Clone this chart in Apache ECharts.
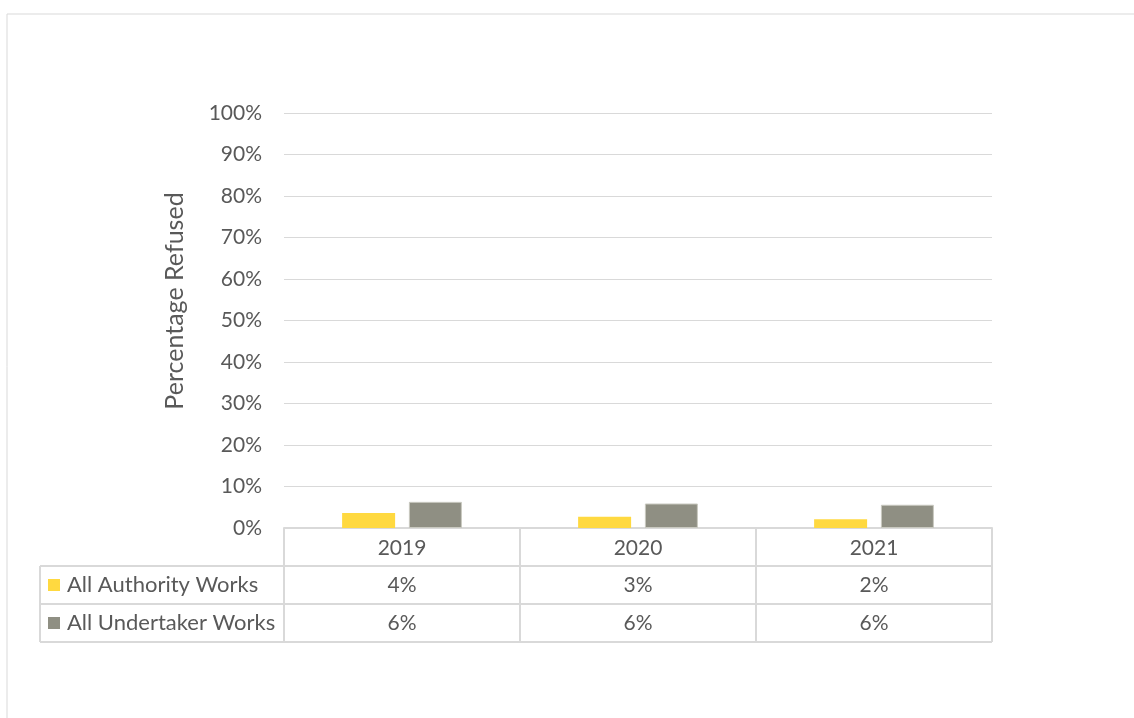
<!DOCTYPE html>
<html>
<head>
<meta charset="utf-8">
<script src="https://cdn.jsdelivr.net/npm/echarts@6/dist/echarts.min.js"></script>
<style>
html,body{margin:0;padding:0;background:#fff;}
#chart{width:1134px;height:718px;}
</style>
</head>
<body>
<div id="chart"></div>
<script>
const categories = ['2019', '2020', '2021'];
const authorityWorks = [3.6, 2.7, 2.1];
const undertakerWorks = [6.3, 5.9, 5.6];
const seriesNames = ['All Authority Works', 'All Undertaker Works'];
const seriesColors = ['#FFD940', '#8F8F83'];
const yTicks = [0, 10, 20, 30, 40, 50, 60, 70, 80, 90, 100];

const FONT = 'Lato, "Open Sans", sans-serif';
const TXT = '#595959';
const LINE = '#d9d9d9';
const G = { left: 284, right: 992, top: 113, bottom: 528 };
const rowH = 38;
const tableLeft = 40;

const chart = echarts.init(document.getElementById('chart'));

const graphics = [];
graphics.push({ type: 'rect', shape: { x: 7, y: 14, width: 1300, height: 900 }, style: { fill: 'none', stroke: LINE, lineWidth: 1 }, silent: true });
for (let i = 1; i <= 3; i++) {
  graphics.push({ type: 'line', shape: { x1: tableLeft, y1: G.bottom + rowH * i, x2: G.right, y2: G.bottom + rowH * i }, style: { stroke: LINE, lineWidth: 2 }, silent: true });
}
graphics.push({ type: 'line', shape: { x1: tableLeft, y1: G.bottom + rowH, x2: tableLeft, y2: G.bottom + rowH * 3 }, style: { stroke: LINE, lineWidth: 2 }, silent: true });
const allData = [authorityWorks, undertakerWorks];
const catW = (G.right - G.left) / categories.length;
allData.forEach((arr, r) => {
  const cy = G.bottom + rowH * (r + 1) + rowH / 2;
  graphics.push({ type: 'rect', shape: { x: 48, y: cy - 6, width: 12, height: 12 }, style: { fill: seriesColors[r] }, silent: true });
  graphics.push({ type: 'text', x: 67, y: cy, style: { text: seriesNames[r], font: '22px ' + FONT, fill: TXT, verticalAlign: 'middle' }, silent: true });
  arr.forEach((v, c) => {
    graphics.push({ type: 'text', x: G.left + catW * (c + 0.5), y: cy, style: { text: Math.round(v) + '%', font: '21px ' + FONT, fill: TXT, align: 'center', verticalAlign: 'middle' }, silent: true });
  });
});
graphics.push({ type: 'text', x: 175, y: 301, rotation: Math.PI / 2, style: { text: 'Percentage Refused', font: '25px ' + FONT, fill: TXT, align: 'center', verticalAlign: 'middle' }, silent: true });

chart.setOption({
  animation: false,
  backgroundColor: '#fff',
  grid: { left: G.left, top: G.top, width: G.right - G.left, height: G.bottom - G.top, containLabel: false },
  xAxis: {
    type: 'category',
    data: categories,
    axisLine: { show: true, lineStyle: { color: LINE, width: 2 } },
    axisTick: { show: true, length: rowH * 3, lineStyle: { color: LINE, width: 2 } },
    axisLabel: { color: TXT, fontSize: 21, fontFamily: FONT, margin: 10 }
  },
  yAxis: {
    type: 'value',
    min: 0, max: 100, interval: 10,
    axisLine: { show: false },
    axisTick: { show: false },
    splitLine: { lineStyle: { color: LINE, width: 1 } },
    axisLabel: { color: TXT, fontSize: 21, fontFamily: FONT, margin: 22,
      formatter: v => yTicks.indexOf(v) >= 0 ? v + '%' : '' }
  },
  series: [
    { name: seriesNames[0], type: 'bar', data: authorityWorks, barWidth: 53, barGap: '26%', itemStyle: { color: seriesColors[0] } },
    { name: seriesNames[1], type: 'bar', data: undertakerWorks, barWidth: 53, barGap: '26%', itemStyle: { color: seriesColors[1], borderColor: '#c9c9c0', borderWidth: 1 } }
  ],
  graphic: graphics
});
</script>
</body>
</html>
